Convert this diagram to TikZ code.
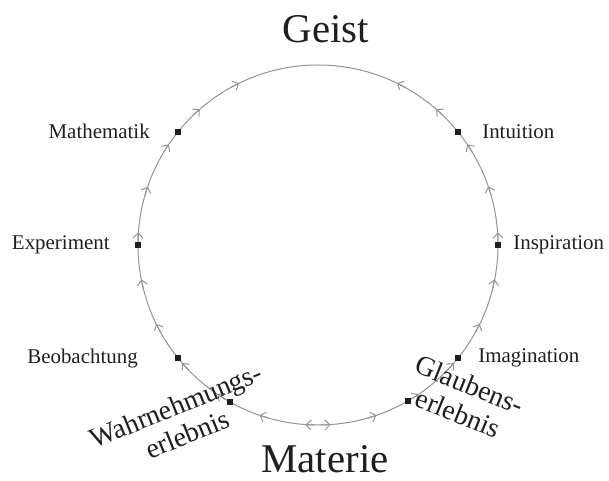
\documentclass[tikz,border=0pt]{standalone}
\usepackage{fontspec}
\setmainfont{Liberation Serif}
\usetikzlibrary{arrows.meta,positioning,calc}
\definecolor{ringgray}{gray}{0.58}
\definecolor{ink}{gray}{0.12}

\begin{document}
\begin{tikzpicture}[
  x=1bp, y=1bp,
  node distance=20bp,
  ring/.style={ringgray, line width=1bp},
  tip/.style={ringgray, line width=1bp, -{Straight Barb[length=5bp,width=10bp]}},
  dot/.style={draw=none, fill=ink, minimum size=6bp, inner sep=0pt},
  lbl/.style={font=\fontsize{21}{25}\selectfont, text=ink, inner sep=2bp},
  pole/.style={font=\fontsize{41}{48}\selectfont, text=ink, inner sep=0bp},
  slant/.style={font=\fontsize{28}{31}\selectfont, text=ink, align=center, inner sep=0bp},
]
  \useasboundingbox (-318,-236) rectangle (291,245);
  \coordinate (c) at (0,0);
  \coordinate (top) at (90:180);
  \coordinate (bottom) at (270:180);
  \draw[ring] (c) circle[radius=180bp];
  % arrows, both halves rising from Materie to Geist
  \foreach \k in {0,...,10}{
    \pgfmathsetmacro{\a}{266-15*\k}
    \pgfmathsetmacro{\b}{-86+15*\k}
    \draw[tip] (\a+3:180) arc[start angle=\a+3, end angle=\a, radius=180bp];
    \draw[tip] (\b-3:180) arc[start angle=\b-3, end angle=\b, radius=180bp];
  }

  % stations on the ring
  \node[dot] (mat) at (141:180) {};
  \node[dot] (int) at (39:180) {};
  \node[dot] (exp) at (180:180) {};
  \node[dot] (ins) at (0:180) {};
  \node[dot] (beo) at (219:180) {};
  \node[dot] (ima) at (-39:180) {};
  \node[dot] (wahr) at (240.6:180) {};
  \node[dot] (glau) at (-60:180) {};

  \node[lbl, left=23bp of mat] (matlbl) {Mathematik};
  \node[lbl, right=19bp of int] (intlbl) {Intuition};
  \node[lbl, left=23bp of exp] (explbl) {Experiment};
  \node[lbl, right=10bp of ins] (inslbl) {Inspiration};
  \node[lbl, left=35bp of beo] (beolbl) {Beobachtung};
  \node[lbl, right=15bp of ima] (imalbl) {Imagination};

  \node[slant, rotate=22] (wahrlbl) at ($(wahr)+(-48,-18)$) {Wahrnehmungs-\\erlebnis};
  \node[slant, rotate=-22] (glaulbl) at ($(glau)+(56,2)$) {Glaubens-\\erlebnis};

  \node[pole, above=22bp of top, xshift=8bp] (geist) {Geist};
  \node[pole, below=20bp of bottom, xshift=7bp] (materie) {Materie};
\end{tikzpicture}
\end{document}
